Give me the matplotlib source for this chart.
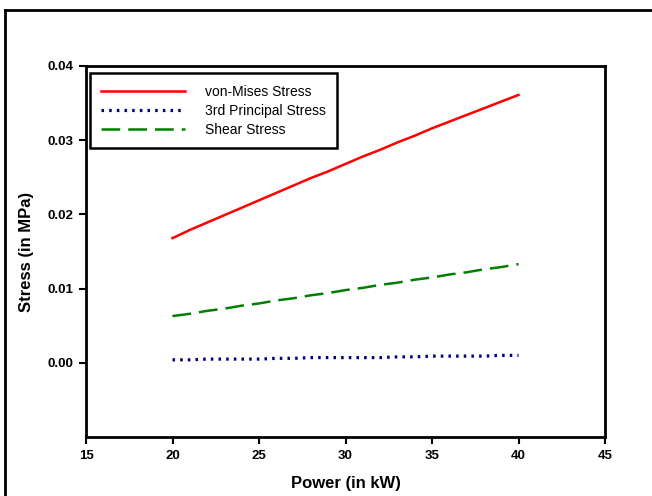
import matplotlib
matplotlib.use("Agg")
from matplotlib import pyplot as plt
from matplotlib.lines import Line2D

power = [20, 21, 22, 23, 24, 25, 26, 27, 28, 29, 30,
         31, 32, 33, 34, 35, 36, 37, 38, 39, 40]
von_mises = [0.0168, 0.0179, 0.0189, 0.0199, 0.0209, 0.0219, 0.0229, 0.0239, 0.0249, 0.0258, 0.0268,
             0.0278, 0.0287, 0.0297, 0.0306, 0.0316, 0.0325, 0.0334, 0.0343, 0.0352, 0.0361]
principal_3rd = [0.0004, 0.0004, 0.0005, 0.0005, 0.0005, 0.0005, 0.0006, 0.0006, 0.0007, 0.0007, 0.0007,
                 0.0007, 0.0007, 0.0008, 0.0008, 0.0009, 0.0009, 0.0009, 0.0009, 0.0010, 0.0010]
shear = [0.0063, 0.0066, 0.0070, 0.0073, 0.0077, 0.0080, 0.0084, 0.0087, 0.0091, 0.0094, 0.0098,
         0.0101, 0.0105, 0.0108, 0.0112, 0.0115, 0.0119, 0.0122, 0.0126, 0.0129, 0.0133]

x_ticks = [15, 20, 25, 30, 35, 40, 45]
y_ticks = [0.00, 0.01, 0.02, 0.03, 0.04]


def main():
    plt.rcParams['font.family'] = ['Liberation Sans', 'DejaVu Sans']
    fig = plt.figure(figsize=(6.52, 4.96), dpi=100)

    # outer frame of the page figure
    fig.add_artist(Line2D([5 / 652, 5 / 652], [0, 1 - 10 / 496], color='black', lw=2,
                          transform=fig.transFigure))
    fig.add_artist(Line2D([5 / 652, 1], [1 - 10 / 496, 1 - 10 / 496], color='black', lw=2,
                          transform=fig.transFigure))

    ax = fig.add_axes([86 / 652, 1 - 437 / 496, (605 - 86) / 652, (437 - 66) / 496])

    ax.plot(power, von_mises, color='#ff0000', lw=1.8, label='von-Mises Stress')
    ax.plot(power, principal_3rd, color='#000080', lw=2.3, linestyle=(0, (0.8, 1.6)),
            label='3rd Principal Stress')
    ax.plot(power, shear, color='#008000', lw=1.8, linestyle=(0, (7.5, 3.2)), label='Shear Stress')

    ax.set_xlim(15, 45)
    ax.set_ylim(-0.01, 0.04)
    ax.set_xticks(x_ticks)
    ax.set_yticks(y_ticks)
    ax.set_xticklabels([str(t) for t in x_ticks], fontweight='bold', fontsize=9.5)
    ax.set_yticklabels([f"{t:.2f}" for t in y_ticks], fontweight='bold', fontsize=9.5)
    ax.tick_params(direction='out', length=5, width=1.5)
    ax.tick_params(axis='x', pad=4.5)
    ax.tick_params(axis='y', pad=4)
    for s in ax.spines.values():
        s.set_linewidth(2)

    ax.set_xlabel("Power (in kW)", fontsize=12, fontweight='bold', labelpad=10)
    ax.set_ylabel("Stress (in MPa)", fontsize=12, fontweight='bold', labelpad=10)

    leg = ax.legend(loc='upper left', bbox_to_anchor=(0.008, 0.98), fontsize=10,
                    fancybox=False, framealpha=1, edgecolor='black', handlelength=6,
                    handletextpad=1.45, borderpad=0.8, labelspacing=0.38, borderaxespad=0)
    leg.get_frame().set_linewidth(1.8)

    fig.savefig("out.png", dpi=100)


if __name__ == "__main__":
    main()
